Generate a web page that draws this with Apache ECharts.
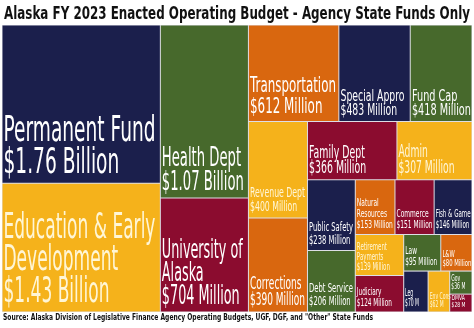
<!DOCTYPE html>
<html><head><meta charset="utf-8">
<script src="https://cdn.jsdelivr.net/npm/echarts@6/dist/echarts.min.js"></script>
<style>html,body{margin:0;padding:0;background:#fff}#c{width:474px;height:328px}</style>
</head><body><div id="c"></div>
<script>
// ---- data ----
const categories = ['Permanent Fund','Education & Early\nDevelopment','Health Dept','University of\nAlaska','Transportation','Special Appro','Fund Cap','Revenue Dept','Corrections','Family Dept','Admin','Public Safety','Debt Service','Natural\nResources','Commerce','Fish & Game','Retirement\nPayments','Judiciary','Law','L&W','Leg','Env Cons','Gov','DMVA'];
const values = [1760,1430,1070,704,612,483,418,400,390,366,307,238,206,153,151,146,139,124,95,80,70,62,36,28];
const valueLabels = ['$1.76 Billion','$1.43 Billion','$1.07 Billion','$704 Million','$612 Million','$483 Million','$418 Million','$400 Million','$390 Million','$366 Million','$307 Million','$238 Million','$206 Million','$153 Million','$151 Million','$146 Million','$139 Million','$124 Million','$95 Million','$80 Million','$70 M','$62 M','$36 M','$28 M'];
// grouping of agencies into the strips of the treemap
const strips = [[0,1],[2,3],[4,5,6],[7,8],[9,10],[11,12],[13,14,15],[16,17],[18,19],[20],[21],[22,23]];
const titleText = 'Alaska FY 2023 Enacted Operating Budget - Agency State Funds Only';
const sourceText = 'Source: Alaska Division of Legislative Finance Agency Operating Budgets, UGF, DGF, and "Other" State Funds';

// ---- style ----
const NAVY='#1b1f4c', GOLD='#f5b21b', GREEN='#47692c', RED='#8b0c2f', ORANGE='#d9670f', SEP='#dedee6';
const cellColors = [NAVY,GOLD,GREEN,RED,ORANGE,NAVY,GREEN,GOLD,ORANGE,RED,GOLD,NAVY,GREEN,ORANGE,RED,NAVY,GOLD,RED,GREEN,ORANGE,NAVY,GOLD,GREEN,RED];
const labelSizes   = [36,36,27,26,22,16,16,14,18,17,18,13,13,11,11,11,10,11,11,9.5,11,8,8,7];
const labelLines   = [32,32,24,23,21,14,14,14,16,15,16,13,13,11,11,11,10,11,11,9,10.5,7.5,7.5,6.6];
const labelWidths  = [152,152,82,81,86,64,59,55,55,57,56,44,44,36,36,35,33,35,32,29,14,21,14,14];
const FONT = '"DejaVu Sans", sans-serif';

const labelTexts = categories.map(function (c, i) { return c + '\n' + valueLabels[i]; });

const treeData = strips.map(function (idx, s) {
  return {
    name: 'strip' + s,
    children: idx.map(function (i) {
      return {
        name: categories[i],
        value: values[i],
        itemStyle: { color: cellColors[i] },
        label: {
          fontSize: labelSizes[i],
          lineHeight: labelLines[i],
          color: cellColors[i] === GOLD ? '#fff6d6' : '#ffffff',
          formatter: labelTexts[i]
        }
      };
    })
  };
});

const measureCtx = document.createElement('canvas').getContext('2d');
function textWidth(text, font) {
  measureCtx.font = font;
  return Math.max.apply(null, text.split('\n').map(function (l) { return measureCtx.measureText(l).width; }));
}
const titleFont = 'bold 18px ' + FONT;
const sourceFont = 'bold 9.5px ' + FONT;

const chart = echarts.init(document.getElementById('c'), null, {renderer:'canvas'});
chart.setOption({
  animation: false,
  graphic: [
    { type:'text', x:4, y:5, scaleX: 466 / textWidth(titleText, titleFont), style:{ text:titleText, font:titleFont, fill:'#111', verticalAlign:'top' } },
    { type:'text', x:3, y:313, scaleX: 370 / textWidth(sourceText, sourceFont), style:{ text:sourceText, font:sourceFont, fill:'#111', verticalAlign:'top' } }
  ],
  series: [{
    type: 'treemap',
    left: 2, top: 25, width: 470, height: 287,
    roam: false, nodeClick: false, silent: true,
    breadcrumb: { show: false },
    sort: false,
    squareRatio: 0.001,
    itemStyle: { borderWidth: 0, gapWidth: 0, borderColor: SEP },
    levels: [
      { itemStyle: { borderWidth: 0, gapWidth: 0, borderColor: SEP } },
      { itemStyle: { borderWidth: 0, gapWidth: 0, borderColor: SEP } },
      { itemStyle: { borderWidth: 0.5, gapWidth: 0, borderColor: SEP } }
    ],
    upperLabel: { show: false },
    label: {
      show: true, position: 'insideBottomLeft', distance: 0,
      padding: [0, 0, 3, 2], overflow: 'none',
      fontFamily: FONT
    },
    data: treeData
  }]
});

// condense the agency labels horizontally (the original uses a condensed typeface)
(function condense() {
  const zr = chart.getZr();
  function walk(el) {
    if (el.getTextContent) {
      const t = el.getTextContent();
      if (t && t.style && typeof t.style.text === 'string') {
        const i = labelTexts.indexOf(t.style.text);
        if (i >= 0) {
          const w = textWidth(labelTexts[i], labelSizes[i] + 'px ' + FONT);
          t.scaleX = labelWidths[i] / w;
          t.markRedraw(); el.markRedraw();
        }
      }
    }
    if (el.isGroup) el.eachChild(walk);
  }
  zr.storage.getRoots().forEach(walk);
  zr.refresh();
})();
</script></body></html>
